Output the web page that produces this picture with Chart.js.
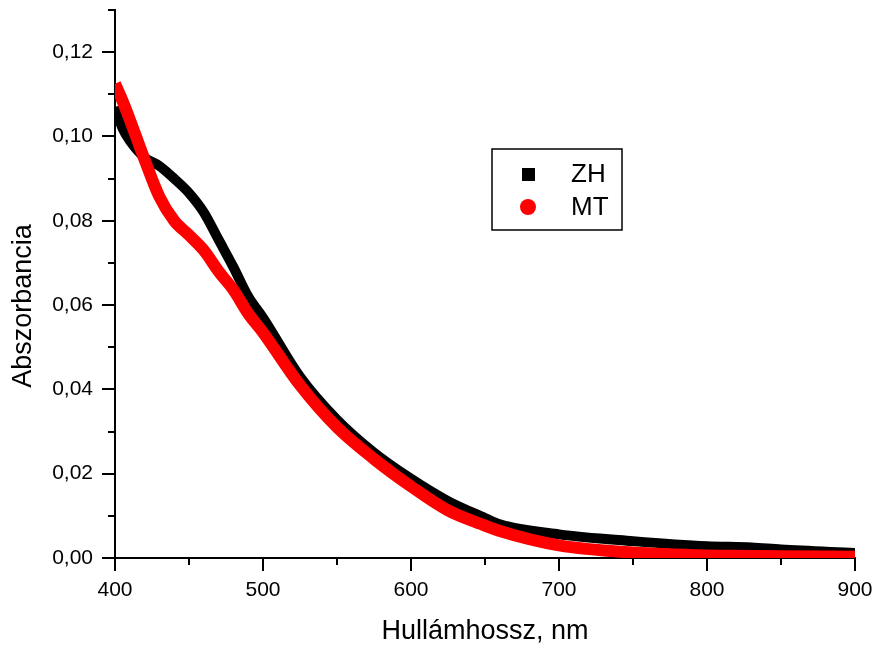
<!DOCTYPE html>
<html>
<head>
<meta charset="utf-8">
<script src="https://cdn.jsdelivr.net/npm/chart.js@4"></script>
<style>
  body { margin: 0; background: #fff; }
</style>
</head>
<body>
<canvas id="myChart" width="876" height="645"></canvas>
<script>
// wavelength (nm) and absorbance
const xValues = [400, 405, 410, 420, 430, 440, 450, 460, 470, 480, 490, 500, 525, 550, 575, 600, 625, 650, 660, 700, 750, 800, 830, 850, 900];
const zhValues = [0.107, 0.102, 0.099, 0.095, 0.093, 0.090, 0.0866, 0.082, 0.0755, 0.069, 0.062, 0.057, 0.043, 0.0328, 0.025, 0.0188, 0.0135, 0.0095, 0.0080, 0.0056, 0.0040, 0.0028, 0.0025, 0.0020, 0.0012];
const mtValues = [0.1125, 0.1085, 0.104, 0.0945, 0.0857, 0.080, 0.0766, 0.073, 0.068, 0.0636, 0.058, 0.0535, 0.041, 0.031, 0.0235, 0.0170, 0.0113, 0.0077, 0.0064, 0.0030, 0.0013, 0.0006, 0.0005, 0.0004, 0.0003];
const seriesNames = ['ZH', 'MT'];
const xTicks = [400, 500, 600, 700, 800, 900];
const yTicks = [0, 0.02, 0.04, 0.06, 0.08, 0.10, 0.12];

const FONT = 'Arial, "Liberation Sans", sans-serif';

const toPoints = ys => xValues.map((x, i) => ({x: x, y: ys[i]}));

// tick marks (major + minor), axis titles and the boxed legend
const extras = {
    id: 'extras',
    afterDraw(chart) {
        const ctx = chart.ctx;
        const xs = chart.scales.x, ys = chart.scales.y;
        const area = chart.chartArea;
        ctx.save();
        ctx.strokeStyle = '#000';
        ctx.lineWidth = 2;
        for (let v = 400; v <= 900; v += 50) {
            const px = Math.round(xs.getPixelForValue(v));
            const len = xTicks.includes(v) ? 13 : 7;
            ctx.beginPath();
            ctx.moveTo(px, area.bottom);
            ctx.lineTo(px, area.bottom + len);
            ctx.stroke();
        }
        for (let i = 0; i <= 13; i++) {
            const py = Math.round(ys.getPixelForValue(i / 100));
            const len = i % 2 === 0 ? 13 : 7;
            ctx.beginPath();
            ctx.moveTo(area.left, py);
            ctx.lineTo(area.left - len, py);
            ctx.stroke();
        }

        ctx.fillStyle = '#000';
        ctx.font = '27px ' + FONT;
        ctx.textAlign = 'center';
        ctx.textBaseline = 'middle';
        ctx.fillText('Hullámhossz, nm', (area.left + area.right) / 2, 632);
        ctx.save();
        ctx.translate(24, 306);
        ctx.rotate(-Math.PI / 2);
        ctx.fillText('Abszorbancia', 0, 0);
        ctx.restore();

        // legend box
        ctx.font = '26px ' + FONT;
        ctx.lineWidth = 1.5;
        ctx.strokeRect(492, 149, 130, 81);
        ctx.fillStyle = '#000';
        ctx.fillRect(522, 168, 13, 13);
        ctx.fillStyle = '#ff0000';
        ctx.beginPath();
        ctx.arc(528, 207, 8, 0, Math.PI * 2);
        ctx.fill();
        ctx.fillStyle = '#000';
        ctx.textAlign = 'left';
        ctx.fillText(seriesNames[0], 571, 175);
        ctx.fillText(seriesNames[1], 571, 208);
        ctx.restore();
    }
};

new Chart('myChart', {
    type: 'line',
    data: {
        datasets: [{
            label: seriesNames[0],
            data: toPoints(zhValues),
            borderColor: '#000',
            borderWidth: 10,
            pointRadius: 0,
            cubicInterpolationMode: 'monotone',
            fill: false,
            order: 1
        }, {
            label: seriesNames[1],
            data: toPoints(mtValues),
            borderColor: '#ff0000',
            borderWidth: 12,
            pointRadius: 0,
            cubicInterpolationMode: 'monotone',
            fill: false,
            order: 0
        }]
    },
    options: {
        responsive: false,
        animation: false,
        layout: {padding: {top: 10, right: 21, left: 0, bottom: 0}},
        plugins: {legend: {display: false}, tooltip: {enabled: false}},
        scales: {
            x: {
                type: 'linear',
                min: 400,
                max: 900,
                afterFit: s => { s.height = 87; s.paddingLeft = 0; s.paddingRight = 0; },
                afterBuildTicks: s => { s.ticks = xTicks.map(v => ({value: v})); },
                grid: {display: false},
                border: {display: true, color: '#000', width: 2},
                ticks: {
                    font: {family: FONT, size: 21},
                    color: '#000',
                    padding: 12,
                    maxRotation: 0
                }
            },
            y: {
                min: 0,
                max: 0.13,
                afterFit: s => { s.width = 115; s.paddingTop = 0; s.paddingBottom = 0; },
                afterBuildTicks: s => { s.ticks = yTicks.map(v => ({value: v})); },
                grid: {display: false},
                border: {display: true, color: '#000', width: 2},
                ticks: {
                    font: {family: FONT, size: 21},
                    color: '#000',
                    padding: 14,
                    callback: v => v.toFixed(2).replace('.', ',')
                }
            }
        }
    },
    plugins: [extras]
});
</script>
</body>
</html>
